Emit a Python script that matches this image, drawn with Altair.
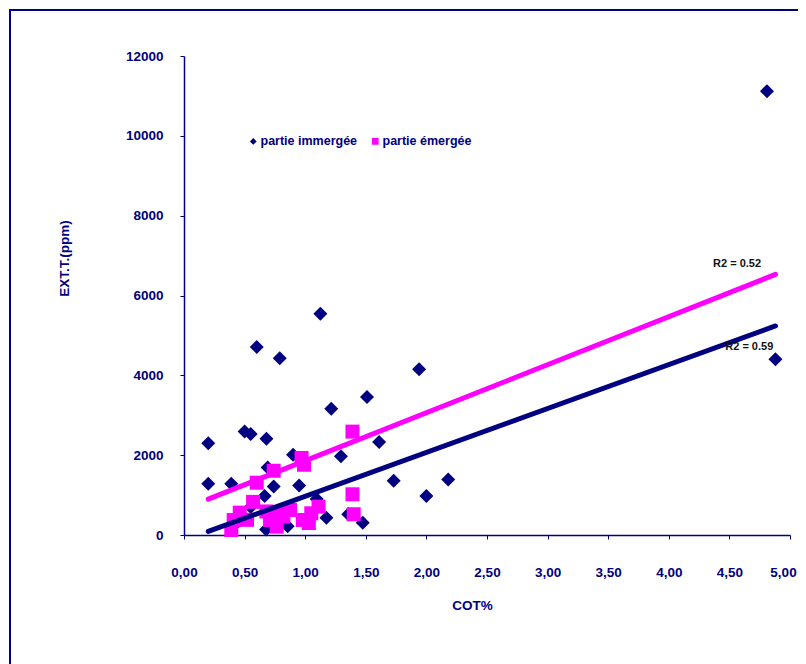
import altair as alt
import pandas as pd

# ---- data ----
series_names = ["partie immergée", "partie émergée"]
series_colors = ["#000080", "#FF00FF"]
series_shapes = ["diamond", "square"]

imm_cot = [4.81, 4.88, 1.125, 0.60, 0.79, 1.94, 1.51, 1.215, 0.20, 0.50, 0.55, 0.68,
           1.61, 1.295, 0.90, 0.20, 0.39, 0.74, 0.95, 0.69, 1.73, 2.18, 2.00, 0.665,
           1.175, 1.475, 1.355, 0.855, 0.677, 1.095, 0.55, 0.45]
imm_ext = [11120, 4400, 5540, 4710, 4430, 4150, 3460, 3160, 2300, 2590, 2530, 2410,
           2330, 1970, 2010, 1285, 1285, 1215, 1240, 1690, 1360, 1390, 980, 980,
           430, 305, 520, 220, 140, 900, 700, 350]

em_cot = [1.39, 0.97, 0.99, 0.74, 0.60, 1.39, 1.40, 0.57, 0.46, 0.41, 0.39, 0.71,
          0.765, 0.82, 0.875, 0.98, 1.05, 1.11, 0.68, 0.52, 0.79, 1.03]
em_ext = [2590, 1930, 1760, 1610, 1310, 1020, 520, 830, 560, 375, 125, 376,
          210, 460, 626, 376, 543, 710, 590, 380, 550, 300]

trend_slope = [1100, 1203]
trend_intercept = [-131, 658]
trend_xrange = [0.2, 4.88]

r2_labels = ["R2 = 0.59", "R2 = 0.52"]
r2_cot = [4.664, 4.563]
r2_ext = [4717, 6789]

x_ticks = [0, 0.5, 1, 1.5, 2, 2.5, 3, 3.5, 4, 4.5, 5]
y_ticks = [0, 2000, 4000, 6000, 8000, 10000, 12000]

# ---- tables ----
pts = pd.DataFrame(
    {"COT": imm_cot + em_cot,
     "EXT": imm_ext + em_ext,
     "serie": [series_names[0]] * len(imm_cot) + [series_names[1]] * len(em_cot)}
)
trend_rows = []
for name, a, b in zip(series_names, trend_intercept, trend_slope):
    for xv in trend_xrange:
        trend_rows.append({"COT": xv, "EXT": a + b * xv, "serie": name})
trend = pd.DataFrame(trend_rows)
r2 = pd.DataFrame({"COT": r2_cot, "EXT": r2_ext, "label": r2_labels})

NAVY = "#000080"
FONT = "Liberation Sans"

x_enc = alt.X(
    "COT:Q",
    scale=alt.Scale(domain=[0, 5], nice=False, zero=False),
    axis=alt.Axis(
        values=x_ticks,
        labelExpr="replace(format(datum.value, '.2f'), '.', ',')",
        labelFlush=False,
        labelOffset={"condition": {"test": "datum.value >= 5", "value": -7}, "value": 0},
        title="COT%",
        titleX=288, titleY=70, titleBaseline="middle", titleAnchor="start", titleAlign="center",
        labelPadding=26,
    ),
)
y_enc = alt.Y(
    "EXT:Q",
    scale=alt.Scale(domain=[0, 12000], nice=False),
    axis=alt.Axis(
        values=y_ticks, format="d", labelFlush=False, title="EXT.T.(ppm)",
        titleX=-120, titleY=202, titleBaseline="middle", titleAngle=270, titleAlign="center",
        labelPadding=17,
    ),
)

legend = alt.Legend(
    title=None, orient="none", direction="horizontal", legendX=63, legendY=79,
    symbolSize=45, symbolStrokeWidth=0, labelOffset=1, columnPadding=11,
    labelFont=FONT, labelFontSize=12.5, labelFontWeight="bold", labelColor=NAVY,
)

points = alt.Chart(pts).mark_point(filled=True, size=196, opacity=1).encode(
    x=x_enc,
    y=y_enc,
    color=alt.Color("serie:N", scale=alt.Scale(domain=series_names, range=series_colors), legend=legend),
    shape=alt.Shape("serie:N", scale=alt.Scale(domain=series_names, range=series_shapes), legend=legend),
)

line_imm = alt.Chart(trend).transform_filter(alt.datum.serie == series_names[0]).mark_line(
    color=series_colors[0], strokeWidth=5, strokeCap="round"
).encode(x="COT:Q", y="EXT:Q")
line_em = alt.Chart(trend).transform_filter(alt.datum.serie == series_names[1]).mark_line(
    color=series_colors[1], strokeWidth=5, strokeCap="round"
).encode(x="COT:Q", y="EXT:Q")

texts = alt.Chart(r2).mark_text(
    font=FONT, fontSize=11, fontWeight="bold", color="#111111", align="center", baseline="middle"
).encode(x="COT:Q", y="EXT:Q", text="label:N")

frame_df = pd.DataFrame({"k": [0]})
frame_left = alt.Chart(frame_df).mark_rule(color=NAVY, strokeWidth=2).encode(
    x=alt.value(-174), y=alt.value(-46), y2=alt.value(700)
)
frame_top = alt.Chart(frame_df).mark_rule(color=NAVY, strokeWidth=2).encode(
    x=alt.value(-175), x2=alt.value(700), y=alt.value(-46)
)

chart = alt.layer(points, line_imm, line_em, texts, frame_left, frame_top).properties(
    width=606, height=479,
    autosize=alt.AutoSizeParams(type="none"),
    padding={"left": 176, "top": 48, "right": 8, "bottom": 150},
).configure_view(stroke=None).configure_axis(
    grid=False,
    domainColor=NAVY, domainWidth=1.5,
    tickColor=NAVY, tickSize=4, tickWidth=1,
    labelFont=FONT, labelFontSize=13.5, labelFontWeight="bold", labelColor=NAVY,
    titleFont=FONT, titleFontSize=13.5, titleFontWeight="bold", titleColor=NAVY,
)

chart.save("out.html", embed_options={"renderer": "svg", "actions": False})
